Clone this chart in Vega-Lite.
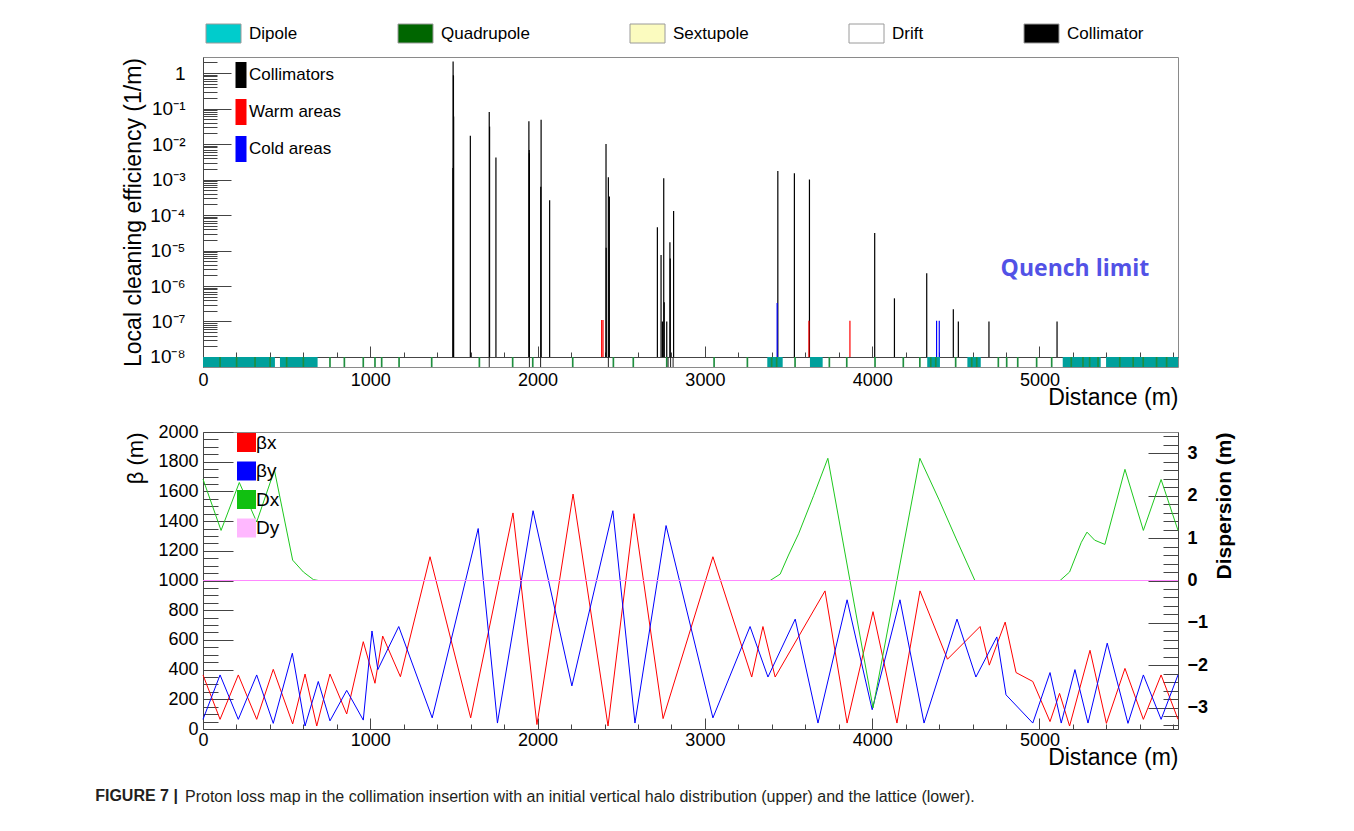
{
  "$schema": "https://vega.github.io/schema/vega-lite/v6.json",
  "autosize": {"type": "pad"},
  "padding": {"left": 95, "top": 22, "right": 5, "bottom": 5},
  "background": "white",
  "config": {
    "font": "Liberation Sans",
    "view": {"stroke": "#8a8a8a", "strokeWidth": 1},
    "axis": {"grid": false, "domainColor": "#444", "tickColor": "#444", "labelColor": "#000", "titleColor": "#000", "labelFont": "Liberation Sans", "titleFont": "Liberation Sans", "labelOverlap": false, "labelFlush": false},
    "legend": {"labelFont": "Liberation Sans", "labelColor": "#000"}
  },
  "title": {"text": "FIGURE 7 |", "orient": "bottom", "anchor": "start", "fontSize": 16, "fontWeight": "bold", "font": "Liberation Sans", "color": "#231f20", "offset": -18, "dx": -27},
  "spacing": 12,
  "resolve": {"scale": {"x": "independent", "y": "independent", "color": "independent", "fill": "independent"}},
  "datasets": {
    "loss": [
      {"d":1494,"v":0.0021,"t":"Collimators"},{"d":1495,"v":2.1,"t":"Collimators"},{"d":1497,"v":0.87,"t":"Collimators"},{"d":1498,"v":0.06,"t":"Collimators"},
      {"d":1598,"v":0.017,"t":"Collimators"},{"d":1711,"v":0.08,"t":"Collimators"},{"d":1713,"v":0.031,"t":"Collimators"},{"d":1751,"v":0.0042,"t":"Collimators"},
      {"d":1948,"v":0.044,"t":"Collimators"},{"d":1950,"v":0.0068,"t":"Collimators"},{"d":1951,"v":0.0055,"t":"Collimators"},{"d":2019,"v":0.00063,"t":"Collimators"},
      {"d":2021,"v":0.048,"t":"Collimators"},{"d":2072,"v":0.00026,"t":"Collimators"},{"d":2409,"v":0.01,"t":"Collimators"},{"d":2410,"v":1.2e-5,"t":"Collimators"},
      {"d":2423,"v":0.00115,"t":"Collimators"},{"d":2429,"v":0.00033,"t":"Collimators"},{"d":2716,"v":4.5e-5,"t":"Collimators"},{"d":2738,"v":7.5e-6,"t":"Collimators"},
      {"d":2746,"v":1e-7,"t":"Collimators"},{"d":2754,"v":0.00108,"t":"Collimators"},{"d":2757,"v":3.5e-7,"t":"Collimators"},{"d":2772,"v":1e-7,"t":"Collimators"},
      {"d":2791,"v":1.7e-5,"t":"Collimators"},{"d":2793,"v":6e-6,"t":"Collimators"},{"d":2813,"v":0.00013,"t":"Collimators"},{"d":3436,"v":0.00174,"t":"Collimators"},
      {"d":3535,"v":0.0015,"t":"Collimators"},{"d":3625,"v":0.001,"t":"Collimators"},{"d":4015,"v":3.1e-5,"t":"Collimators"},{"d":4133,"v":4.5e-7,"t":"Collimators"},
      {"d":4326,"v":2.3e-6,"t":"Collimators"},{"d":4485,"v":2.2e-7,"t":"Collimators"},{"d":4515,"v":1e-7,"t":"Collimators"},{"d":4698,"v":1e-7,"t":"Collimators"},
      {"d":5105,"v":1e-7,"t":"Collimators"},
      {"d":2383,"v":1.1e-7,"t":"Warm areas"},{"d":2391,"v":1.1e-7,"t":"Warm areas"},{"d":3622,"v":1.05e-7,"t":"Warm areas"},{"d":3867,"v":1.05e-7,"t":"Warm areas"},
      {"d":3432,"v":3.3e-7,"t":"Cold areas"},{"d":4385,"v":1.05e-7,"t":"Cold areas"},{"d":4401,"v":1.05e-7,"t":"Cold areas"}
    ],
    "lattice": [
      {"d":0,"d2":430,"k":"Dipole"},{"d":460,"d2":685,"k":"Dipole"},{"d":3373,"d2":3465,"k":"Dipole"},{"d":3628,"d2":3704,"k":"Dipole"},
      {"d":4329,"d2":4405,"k":"Dipole"},{"d":4569,"d2":4649,"k":"Dipole"},{"d":5139,"d2":5366,"k":"Dipole"},{"d":5398,"d2":5828,"k":"Dipole"},
      {"d":97,"d2":107,"k":"Quadrupole"},{"d":196,"d2":206,"k":"Quadrupole"},{"d":306,"d2":316,"k":"Quadrupole"},{"d":396,"d2":406,"k":"Quadrupole"},
      {"d":495,"d2":505,"k":"Quadrupole"},{"d":595,"d2":605,"k":"Quadrupole"},{"d":754,"d2":764,"k":"Quadrupole"},{"d":840,"d2":850,"k":"Quadrupole"},
      {"d":953,"d2":963,"k":"Quadrupole"},{"d":1023,"d2":1033,"k":"Quadrupole"},{"d":1063,"d2":1073,"k":"Quadrupole"},{"d":1167,"d2":1177,"k":"Quadrupole"},
      {"d":1362,"d2":1372,"k":"Quadrupole"},{"d":1647,"d2":1657,"k":"Quadrupole"},{"d":1846,"d2":1856,"k":"Quadrupole"},{"d":1966,"d2":1976,"k":"Quadrupole"},
      {"d":2205,"d2":2215,"k":"Quadrupole"},{"d":2448,"d2":2458,"k":"Quadrupole"},{"d":2567,"d2":2577,"k":"Quadrupole"},{"d":2767,"d2":2777,"k":"Quadrupole"},
      {"d":3050,"d2":3060,"k":"Quadrupole"},{"d":3249,"d2":3259,"k":"Quadrupole"},{"d":3394,"d2":3404,"k":"Quadrupole"},{"d":3424,"d2":3434,"k":"Quadrupole"},
      {"d":3534,"d2":3544,"k":"Quadrupole"},{"d":3739,"d2":3749,"k":"Quadrupole"},{"d":3843,"d2":3853,"k":"Quadrupole"},{"d":4012,"d2":4022,"k":"Quadrupole"},
      {"d":4181,"d2":4191,"k":"Quadrupole"},{"d":4280,"d2":4290,"k":"Quadrupole"},{"d":4345,"d2":4355,"k":"Quadrupole"},{"d":4375,"d2":4385,"k":"Quadrupole"},
      {"d":4494,"d2":4504,"k":"Quadrupole"},{"d":4590,"d2":4600,"k":"Quadrupole"},{"d":4620,"d2":4630,"k":"Quadrupole"},{"d":4749,"d2":4759,"k":"Quadrupole"},
      {"d":4799,"d2":4809,"k":"Quadrupole"},{"d":4865,"d2":4875,"k":"Quadrupole"},{"d":4978,"d2":4988,"k":"Quadrupole"},{"d":5068,"d2":5078,"k":"Quadrupole"},
      {"d":5185,"d2":5195,"k":"Quadrupole"},{"d":5255,"d2":5265,"k":"Quadrupole"},{"d":5295,"d2":5305,"k":"Quadrupole"},{"d":5345,"d2":5355,"k":"Quadrupole"},
      {"d":5475,"d2":5485,"k":"Quadrupole"},{"d":5555,"d2":5565,"k":"Quadrupole"},{"d":5615,"d2":5625,"k":"Quadrupole"},{"d":5695,"d2":5705,"k":"Quadrupole"},
      {"d":5755,"d2":5765,"k":"Quadrupole"},
      {"d":1708,"d2":1714,"k":"Collimator"},{"d":1948,"d2":1954,"k":"Collimator"},{"d":2015,"d2":2021,"k":"Collimator"},{"d":2420,"d2":2426,"k":"Collimator"},
      {"d":2777,"d2":2783,"k":"Collimator"},{"d":2792,"d2":2798,"k":"Collimator"},{"d":2807,"d2":2813,"k":"Collimator"}
    ],
    "kinds": [{"k":"Dipole"},{"k":"Quadrupole"},{"k":"Sextupole"},{"k":"Drift"},{"k":"Collimator"}],
    "beta": [
      {"d":0,"b":364,"s":"βx"},{"d":102,"b":65,"s":"βx"},{"d":211,"b":364,"s":"βx"},{"d":321,"b":65,"s":"βx"},{"d":420,"b":402,"s":"βx"},
      {"d":536,"b":34,"s":"βx"},{"d":610,"b":370,"s":"βx"},{"d":680,"b":20,"s":"βx"},{"d":759,"b":370,"s":"βx"},{"d":859,"b":101,"s":"βx"},
      {"d":958,"b":588,"s":"βx"},{"d":1028,"b":308,"s":"βx"},{"d":1074,"b":626,"s":"βx"},{"d":1180,"b":352,"s":"βx"},{"d":1357,"b":1160,"s":"βx"},
      {"d":1600,"b":75,"s":"βx"},{"d":1853,"b":1455,"s":"βx"},{"d":1996,"b":30,"s":"βx"},{"d":2212,"b":1582,"s":"βx"},{"d":2421,"b":20,"s":"βx"},
      {"d":2576,"b":1450,"s":"βx"},{"d":2750,"b":70,"s":"βx"},{"d":3048,"b":1160,"s":"βx"},{"d":3280,"b":350,"s":"βx"},{"d":3347,"b":690,"s":"βx"},
      {"d":3420,"b":350,"s":"βx"},{"d":3718,"b":930,"s":"βx"},{"d":3850,"b":40,"s":"βx"},{"d":4005,"b":790,"s":"βx"},{"d":4148,"b":40,"s":"βx"},
      {"d":4286,"b":930,"s":"βx"},{"d":4450,"b":470,"s":"βx"},{"d":4645,"b":690,"s":"βx"},{"d":4700,"b":430,"s":"βx"},{"d":4795,"b":720,"s":"βx"},
      {"d":4860,"b":380,"s":"βx"},{"d":4960,"b":320,"s":"βx"},{"d":5063,"b":50,"s":"βx"},{"d":5120,"b":240,"s":"βx"},{"d":5180,"b":20,"s":"βx"},
      {"d":5302,"b":530,"s":"βx"},{"d":5400,"b":38,"s":"βx"},{"d":5511,"b":408,"s":"βx"},{"d":5621,"b":65,"s":"βx"},{"d":5727,"b":364,"s":"βx"},
      {"d":5828,"b":65,"s":"βx"},
      {"d":0,"b":65,"s":"βy"},{"d":102,"b":364,"s":"βy"},{"d":211,"b":65,"s":"βy"},{"d":321,"b":364,"s":"βy"},{"d":420,"b":38,"s":"βy"},
      {"d":534,"b":510,"s":"βy"},{"d":610,"b":20,"s":"βy"},{"d":689,"b":320,"s":"βy"},{"d":759,"b":55,"s":"βy"},{"d":859,"b":260,"s":"βy"},
      {"d":958,"b":60,"s":"βy"},{"d":1010,"b":660,"s":"βy"},{"d":1045,"b":400,"s":"βy"},{"d":1170,"b":690,"s":"βy"},{"d":1370,"b":75,"s":"βy"},
      {"d":1645,"b":1350,"s":"βy"},{"d":1760,"b":40,"s":"βy"},{"d":1973,"b":1470,"s":"βy"},{"d":2205,"b":290,"s":"βy"},{"d":2450,"b":1470,"s":"βy"},
      {"d":2582,"b":40,"s":"βy"},{"d":2768,"b":1370,"s":"βy"},{"d":3048,"b":75,"s":"βy"},{"d":3270,"b":690,"s":"βy"},{"d":3377,"b":350,"s":"βy"},
      {"d":3540,"b":740,"s":"βy"},{"d":3676,"b":40,"s":"βy"},{"d":3850,"b":870,"s":"βy"},{"d":4000,"b":130,"s":"βy"},{"d":4166,"b":870,"s":"βy"},
      {"d":4310,"b":40,"s":"βy"},{"d":4507,"b":740,"s":"βy"},{"d":4620,"b":350,"s":"βy"},{"d":4745,"b":620,"s":"βy"},{"d":4800,"b":230,"s":"βy"},
      {"d":4960,"b":40,"s":"βy"},{"d":5063,"b":380,"s":"βy"},{"d":5130,"b":40,"s":"βy"},{"d":5212,"b":400,"s":"βy"},{"d":5290,"b":40,"s":"βy"},
      {"d":5405,"b":578,"s":"βy"},{"d":5529,"b":38,"s":"βy"},{"d":5621,"b":364,"s":"βy"},{"d":5727,"b":65,"s":"βy"},{"d":5828,"b":364,"s":"βy"}
    ],
    "disp": [
      {"d":0,"D":2.39,"s":"Dx"},{"d":108,"D":1.18,"s":"Dx"},{"d":217,"D":2.31,"s":"Dx"},{"d":321,"D":1.38,"s":"Dx"},{"d":427,"D":2.6,"s":"Dx"},
      {"d":536,"D":0.48,"s":"Dx"},{"d":600,"D":0.2,"s":"Dx"},{"d":660,"D":0.02,"s":"Dx"},{"d":690,"D":0,"s":"Dx"},{"d":3390,"D":0,"s":"Dx"},
      {"d":3450,"D":0.15,"s":"Dx"},{"d":3500,"D":0.6,"s":"Dx"},{"d":3560,"D":1.1,"s":"Dx"},{"d":3650,"D":2.0,"s":"Dx"},{"d":3735,"D":2.88,"s":"Dx"},
      {"d":4005,"D":-3.0,"s":"Dx"},{"d":4285,"D":2.88,"s":"Dx"},{"d":4400,"D":1.9,"s":"Dx"},{"d":4500,"D":1.0,"s":"Dx"},{"d":4614,"D":0,"s":"Dx"},
      {"d":5123,"D":0,"s":"Dx"},{"d":5180,"D":0.2,"s":"Dx"},{"d":5250,"D":0.9,"s":"Dx"},{"d":5284,"D":1.14,"s":"Dx"},{"d":5330,"D":0.95,"s":"Dx"},
      {"d":5391,"D":0.85,"s":"Dx"},{"d":5511,"D":2.62,"s":"Dx"},{"d":5621,"D":1.18,"s":"Dx"},{"d":5727,"D":2.38,"s":"Dx"},{"d":5828,"D":1.18,"s":"Dx"},
      {"d":0,"D":0,"s":"Dy"},{"d":5828,"D":0,"s":"Dy"}
    ]
  },
  "vconcat": [
    {
      "width": 975,
      "height": 310,
      "resolve": {"scale": {"color": "independent"}},
      "encoding": {
        "x": {"field": "d", "type": "quantitative", "scale": {"domain": [0, 5828], "nice": false, "zero": false},
          "axis": {"orient": "bottom", "offset": -10, "format": "d", "labelOverlap": false,
            "values": [0,200,400,600,800,1000,1200,1400,1600,1800,2000,2200,2400,2600,2800,3000,3200,3400,3600,3800,4000,4200,4400,4600,4800,5000,5200,5400,5600,5800],
            "tickSize": {"condition": {"test": "datum.value % 1000 === 0", "value": -11}, "value": -5},
            "labelExpr": "datum.value % 1000 === 0 ? datum.label : ''",
            "labelFontSize": 18, "labelPadding": 25,
            "title": "Distance (m)", "titleFontSize": 23, "titleFontWeight": "normal", "titleAnchor": "end", "titlePadding": -9}}
      },
      "layer": [
        {
          "data": {"name": "lattice"},
          "mark": {"type": "rect"},
          "encoding": {
            "x2": {"field": "d2"},
            "y": {"datum": 5.227e-9, "type": "quantitative", "scale": {"type": "log", "domain": [5.227e-9, 2.825], "nice": false}},
            "y2": {"datum": 1e-8},
            "fill": {"field": "k", "type": "nominal",
              "scale": {"domain": ["Dipole", "Quadrupole", "Collimator"], "range": ["#00a09c", "#1f8f3f", "#222222"]},
              "legend": null}
          }
        },
        {
          "data": {"name": "kinds"},
          "mark": {"type": "point", "filled": true, "size": 0, "opacity": 1, "shape": "M-1.75,-0.95H1.75V0.95H-1.75Z"},
          "encoding": {
            "x": {"datum": 0},
            "y": {"datum": 1e-8},
            "color": {"field": "k", "type": "nominal",
              "scale": {"domain": ["Dipole", "Quadrupole", "Sextupole", "Drift", "Collimator"], "range": ["#00cccc", "#006600", "#fbfbbf", "#ffffff", "#000000"]},
              "legend": {"orient": "none", "legendX": 10, "legendY": -34, "direction": "horizontal", "title": null,
                "symbolType": "M-1.75,-0.95H1.75V0.95H-1.75Z", "symbolSize": 400, "symbolOpacity": 1,
                "symbolStrokeColor": "#9a9a9a", "symbolStrokeWidth": 1,
                "labelFontSize": 17, "labelOffset": 15, "columnPadding": 98}}
          }
        },
        {
          "data": {"name": "loss"},
          "mark": {"type": "rule", "strokeWidth": 1.2},
          "encoding": {
            "y": {"field": "v", "type": "quantitative",
              "axis": {"labelOverlap": false,
                "values": [1e-8,2e-8,3e-8,4e-8,5e-8,6e-8,7e-8,8e-8,9e-8,1e-7,2e-7,3e-7,4e-7,5e-7,6e-7,7e-7,8e-7,9e-7,1e-6,2e-6,3e-6,4e-6,5e-6,6e-6,7e-6,8e-6,9e-6,1e-5,2e-5,3e-5,4e-5,5e-5,6e-5,7e-5,8e-5,9e-5,1e-4,2e-4,3e-4,4e-4,5e-4,6e-4,7e-4,8e-4,9e-4,0.001,0.002,0.003,0.004,0.005,0.006,0.007,0.008,0.009,0.01,0.02,0.03,0.04,0.05,0.06,0.07,0.08,0.09,0.1,0.2,0.3,0.4,0.5,0.6,0.7,0.8,0.9,1,2],
                "tickSize": {"condition": {"test": "abs(log(datum.value)/LN10 - round(log(datum.value)/LN10)) < 0.001", "value": -28}, "value": -14},
                "labelExpr": "abs(log(datum.value)/LN10 - round(log(datum.value)/LN10)) > 0.001 ? '' : (round(log(datum.value)/LN10) == 0 ? '1' : '10⁻' + ['⁰','¹','²','³','⁴','⁵','⁶','⁷','⁸','⁹'][-round(log(datum.value)/LN10)])",
                "labelFontSize": 19, "labelPadding": 46,
                "title": "Local cleaning efficiency (1/m)", "titleFontSize": 23, "titleFontWeight": "normal", "titlePadding": 4}},
            "y2": {"datum": 1e-8},
            "color": {"field": "t", "type": "nominal",
              "scale": {"domain": ["Collimators", "Warm areas", "Cold areas"], "range": ["#000000", "#ff0000", "#0000ff"]},
              "legend": {"orient": "none", "legendX": 28, "legendY": 8, "direction": "vertical", "title": null,
                "symbolType": "M-0.55,-1.3H0.55V1.3H-0.55Z", "symbolSize": 400, "labelFontSize": 17, "labelOffset": -2, "rowPadding": 11,
                "encode": {"symbols": {"update": {
                  "fill": {"signal": "datum.value === 'Collimators' ? '#000000' : datum.value === 'Warm areas' ? '#ff0000' : '#0000ff'"},
                  "strokeWidth": {"value": 0}, "opacity": {"value": 1}}}}}}
          }
        },
        {
          "data": {"values": [{}]},
          "mark": {"type": "rule", "strokeDash": [8, 5], "color": "#5050f0", "strokeWidth": 1.3},
          "encoding": {"x": {"datum": 0}, "x2": {"datum": 5828}, "y": {"datum": 3.9e-7}}
        },
        {
          "data": {"values": [{"d": 5212, "v": 3.0e-6, "label": "Quench limit"}]},
          "mark": {"type": "text", "font": "Open Sans", "fontWeight": "bold", "fontSize": 23, "color": "#5252e6"},
          "encoding": {"y": {"field": "v", "type": "quantitative"}, "text": {"field": "label"}}
        }
      ]
    },
    {
      "width": 975,
      "height": 297,
      "title": {"text": "Proton loss map in the collimation insertion with an initial vertical halo distribution (upper) and the lattice (lower).", "orient": "bottom", "anchor": "start", "frame": "group", "fontSize": 16, "fontWeight": "normal", "font": "Liberation Sans", "color": "#231f20", "offset": 20, "dx": -18},
      "encoding": {
        "x": {"field": "d", "type": "quantitative", "scale": {"domain": [0, 5828], "nice": false, "zero": false},
          "axis": {"orient": "bottom", "format": "d", "labelOverlap": false,
            "values": [0,200,400,600,800,1000,1200,1400,1600,1800,2000,2200,2400,2600,2800,3000,3200,3400,3600,3800,4000,4200,4400,4600,4800,5000,5200,5400,5600,5800],
            "tickSize": {"condition": {"test": "datum.value % 1000 === 0", "value": -11}, "value": -5},
            "labelExpr": "datum.value % 1000 === 0 ? datum.label : ''",
            "labelFontSize": 18, "labelPadding": 13,
            "title": "Distance (m)", "titleFontSize": 23, "titleFontWeight": "normal", "titleAnchor": "end", "titlePadding": -9}},
        "color": {"field": "s", "type": "nominal",
          "scale": {"domain": ["βx", "βy", "Dx", "Dy"], "range": ["#ff0000", "#0000ff", "#1ec81e", "#ff88ff"]},
          "legend": {"orient": "none", "legendX": 34, "legendY": 1, "direction": "vertical", "title": null,
            "symbolType": "square", "symbolSize": 361, "labelFontSize": 19, "labelOffset": 0, "rowPadding": 8.5,
            "encode": {"symbols": {"update": {
              "fill": {"signal": "datum.value === 'βx' ? '#ff0000' : datum.value === 'βy' ? '#0000ff' : datum.value === 'Dx' ? '#11c011' : '#ffb8ff'"},
              "strokeWidth": {"value": 0}, "opacity": {"value": 1}}}}}}
      },
      "layer": [
        {
          "data": {"name": "beta"},
          "mark": {"type": "line", "strokeWidth": 1},
          "encoding": {
            "y": {"field": "b", "type": "quantitative", "scale": {"domain": [0, 2000], "nice": false},
              "axis": {"orient": "left", "format": "d", "labelOverlap": false,
                "values": [0,50,100,150,200,250,300,350,400,450,500,550,600,650,700,750,800,850,900,950,1000,1050,1100,1150,1200,1250,1300,1350,1400,1450,1500,1550,1600,1650,1700,1750,1800,1850,1900,1950,2000],
                "tickSize": {"condition": {"test": "datum.value % 200 === 0", "value": -30}, "value": -15},
                "labelExpr": "datum.value % 200 === 0 ? datum.label : ''",
                "labelFontSize": 18, "labelPadding": 35,
                "title": "β (m)", "titleFontSize": 22, "titleFontWeight": "normal", "titleAnchor": "end", "titlePadding": 10}}
          }
        },
        {
          "data": {"name": "disp"},
          "mark": {"type": "line", "strokeWidth": 1},
          "encoding": {
            "y": {"field": "D", "type": "quantitative", "scale": {"domain": [-3.5, 3.5], "nice": false, "zero": false},
              "axis": {"orient": "right", "labelOverlap": false,
                "values": [-3.4,-3.2,-3,-2.8,-2.6,-2.4,-2.2,-2,-1.8,-1.6,-1.4,-1.2,-1,-0.8,-0.6,-0.4,-0.2,0,0.2,0.4,0.6,0.8,1,1.2,1.4,1.6,1.8,2,2.2,2.4,2.6,2.8,3,3.2,3.4],
                "tickSize": {"condition": {"test": "abs(datum.value - round(datum.value)) < 0.001", "value": -30}, "value": -15},
                "labelExpr": "abs(datum.value - round(datum.value)) < 0.001 ? format(round(datum.value), 'd') : ''",
                "labelFontSize": 18, "labelFontWeight": "bold", "labelPadding": 39,
                "title": "Dispersion (m)", "titleFontSize": 21, "titleFontWeight": "bold", "titleAnchor": "end", "titleAngle": -90, "titleBaseline": "top", "titleAlign": "right", "titlePadding": 6}}
          }
        }
      ],
      "resolve": {"scale": {"y": "independent"}}
    }
  ]
}
